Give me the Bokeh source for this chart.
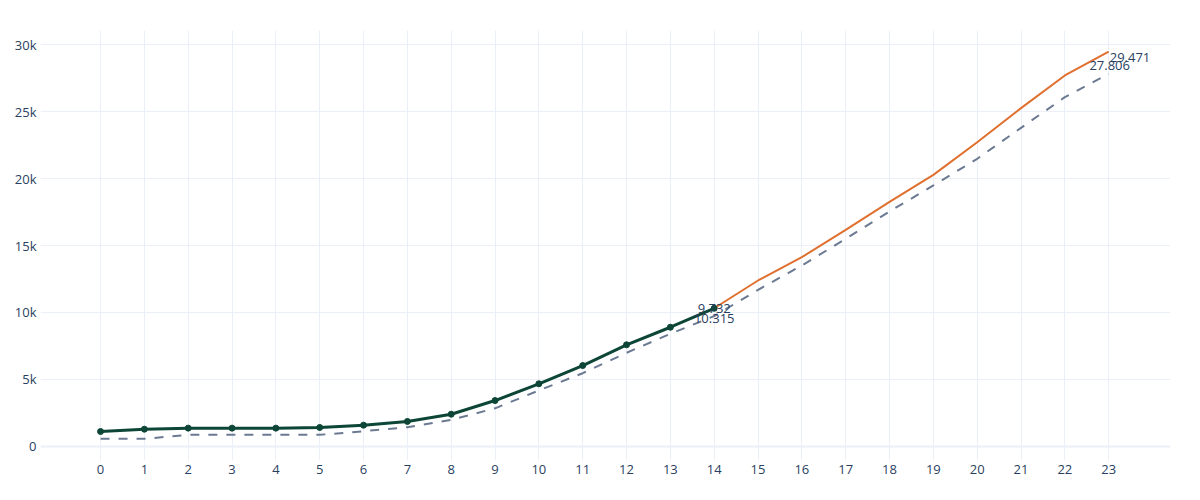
from bokeh.plotting import figure
from bokeh.models import FixedTicker, Span, Range1d
from bokeh.embed import file_html
from bokeh.resources import INLINE
from bokeh.core.properties import value

# ---- data ----
x_actual = list(range(0, 15))
actual = [1120, 1290, 1370, 1370, 1370, 1420, 1590, 1870, 2410, 3430,
          4680, 6040, 7590, 8900, 10315]
x_forecast = list(range(14, 24))
forecast = [10315, 12390, 14130, 16170, 18260, 20270, 22710, 25250, 27690, 29471]
x_baseline = list(range(0, 24))
baseline = [570, 570, 870, 870, 870, 870, 1140, 1440, 1990, 2850,
            4180, 5470, 6990, 8410, 9732, 11690, 13510, 15500, 17540, 19480,
            21470, 23780, 26070, 27806]
x_ticks = list(range(0, 24))
y_ticks = [0, 5000, 10000, 15000, 20000, 25000, 30000]
y_tick_labels = ["0", "5k", "10k", "15k", "20k", "25k", "30k"]

FONT = "Open Sans"
TXT = "#2a3f5f"
GRID = "#EBF0F8"

p = figure(width=1184, height=484, output_backend="svg", toolbar_location=None,
           x_range=Range1d(-1.37, 24.41), y_range=Range1d(-1045, 31045),
           min_border_left=40, min_border_right=14, min_border_top=30,
           min_border_bottom=24)
p.outline_line_color = None
p.background_fill_color = "white"

p.xaxis.ticker = FixedTicker(ticks=x_ticks)
p.yaxis.ticker = FixedTicker(ticks=y_ticks)
p.yaxis.major_label_overrides = {t: l for t, l in zip(y_ticks, y_tick_labels)}
for ax in (p.xaxis, p.yaxis):
    ax.axis_line_color = None
    ax.major_tick_line_color = None
    ax.minor_tick_line_color = None
    ax.major_label_text_font = FONT
    ax.major_label_text_font_size = "13px"
    ax.major_label_text_color = TXT
p.xaxis.major_label_standoff = -2
p.yaxis.major_label_standoff = -2

p.xgrid.grid_line_color = GRID
p.ygrid.grid_line_color = GRID
p.xgrid.grid_line_width = 1
p.ygrid.grid_line_width = 1
p.add_layout(Span(location=0, dimension="width", line_color=GRID, line_width=2))

# series
p.line(x_baseline, baseline, line_color="#6b7a92", line_width=2, line_dash="9 9")
p.line(x_forecast, forecast, line_color="#e0702f", line_width=2)
p.line(x_actual, actual, line_color="#0d4636", line_width=3)
p.scatter(x_actual, actual, size=6, fill_color="#0d4636", line_color="#0d4636")

# labels
def fmt(v):
    return f"{v/1000:.3f}"

p.text(x=[x_baseline[14], x_baseline[-1]], y=[baseline[14], baseline[-1]],
       text=[fmt(baseline[14]), fmt(baseline[-1])],
       text_align="center", text_baseline="middle", x_offset=[0, 1], y_offset=-8,
       text_font=value(FONT), text_font_size="13px", text_color=TXT)
p.text(x=[x_actual[-1]], y=[actual[-1]], text=[fmt(actual[-1])],
       text_align="center", text_baseline="middle", y_offset=10,
       text_font=value(FONT), text_font_size="13px", text_color=TXT)
p.text(x=[x_forecast[-1]], y=[forecast[-1]], text=[fmt(forecast[-1])],
       text_align="left", text_baseline="middle", x_offset=1, y_offset=6,
       text_font=value(FONT), text_font_size="13px", text_color=TXT)

open("out.html", "w").write(file_html(p, INLINE))
